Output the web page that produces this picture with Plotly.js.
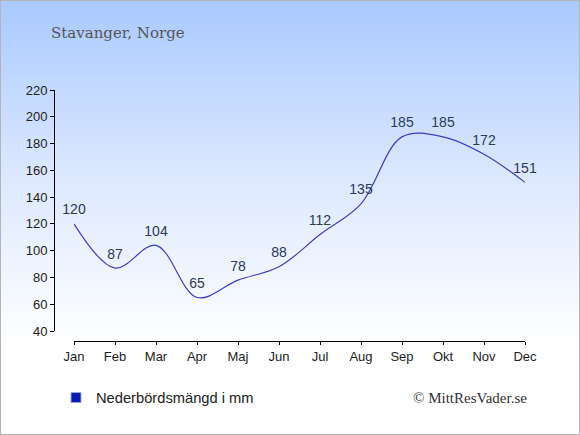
<!DOCTYPE html>
<html>
<head>
<meta charset="utf-8">
<script src="https://cdn.plot.ly/plotly-3.0.1.min.js"></script>
<style>
html,body{margin:0;padding:0;}
#wrap{width:578px;height:433px;border:1px solid #b4b4b4;background:linear-gradient(to bottom,#a9c9ff 0%,#dce8ff 40%,#ffffff 80%,#ffffff 100%);}
#chart{width:578px;height:433px;}
</style>
</head>
<body>
<div id="wrap"><div id="chart"></div></div>
<script>
const months = ["Jan","Feb","Mar","Apr","Maj","Jun","Jul","Aug","Sep","Okt","Nov","Dec"];
const precipitation = [120,87,104,65,78,88,112,135,185,185,172,151];
const yTicks = [40,60,80,100,120,140,160,180,200,220];
const seriesName = "Nederbördsmängd i mm";
const titleText = "Stavanger, Norge";
const creditText = "© MittResVader.se";

const W = 578, H = 433;
const px = v => v / W;
const py = v => 1 - v / H;

const traces = [
  {
    x: months,
    y: precipitation,
    type: "scatter",
    mode: "lines+markers+text",
    line: {shape: "spline", smoothing: 1, color: "#3a3ec4", width: 1.2},
    marker: {size: 8, opacity: 0},
    text: precipitation.map(String),
    textposition: "top center",
    textfont: {family: "Liberation Sans, Arial, sans-serif", size: 14, color: "#2b3a57"},
    cliponaxis: false,
    showlegend: false,
    hoverinfo: "x+y"
  },
  {
    x: [null],
    y: [null],
    type: "scatter",
    mode: "markers",
    name: seriesName,
    marker: {symbol: "square", size: 10, color: "#0a1aaa", line: {color: "#9aa4d8", width: 1}},
    showlegend: true
  }
];

const layout = {
  width: W, height: H,
  margin: {l: 0, r: 0, t: 0, b: 0},
  paper_bgcolor: "rgba(0,0,0,0)",
  plot_bgcolor: "rgba(0,0,0,0)",
  font: {family: "Liberation Sans, Arial, sans-serif", size: 13, color: "#222"},
  title: {
    text: titleText,
    x: px(50), xanchor: "left", xref: "paper",
    y: py(37), yanchor: "bottom", yref: "paper",
    font: {family: "DejaVu Serif, serif", size: 15, color: "#555"}
  },
  xaxis: {
    type: "category",
    categoryarray: months,
    range: [0, 11],
    domain: [px(73), px(524)],
    anchor: "free",
    position: py(340),
    showgrid: false, zeroline: false,
    showline: true, linecolor: "#000", linewidth: 1,
    ticks: "outside", ticklen: 3, tickcolor: "#000",
    tickfont: {size: 13, color: "#222"}
  },
  yaxis: {
    range: [40, 220],
    domain: [py(330), py(89)],
    tickvals: yTicks,
    anchor: "free",
    position: px(53),
    showgrid: false, zeroline: false,
    showline: true, linecolor: "#000", linewidth: 1,
    ticks: "outside", ticklen: 4, tickcolor: "#000",
    tickfont: {size: 13, color: "#222"}
  },
  showlegend: true,
  legend: {
    x: px(55), xanchor: "left",
    y: py(397), yanchor: "middle",
    bgcolor: "rgba(0,0,0,0)",
    font: {family: "Liberation Sans, Arial, sans-serif", size: 14.7, color: "#222"}
  },
  annotations: [
    {
      text: creditText,
      xref: "paper", yref: "paper",
      x: px(528), xanchor: "right",
      y: py(397), yanchor: "middle",
      showarrow: false,
      font: {family: "Liberation Serif, serif", size: 15, color: "#333"}
    }
  ]
};

Plotly.newPlot("chart", traces, layout, {displayModeBar: false, staticPlot: true});
</script>
</body>
</html>
